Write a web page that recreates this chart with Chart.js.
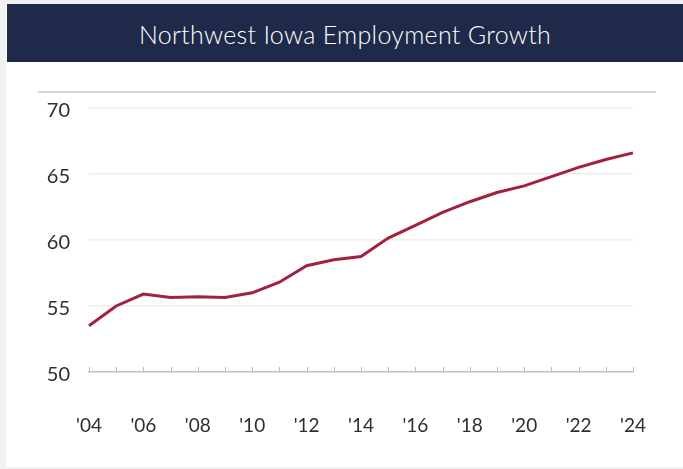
<!DOCTYPE html>
<html>
<head>
<meta charset="utf-8">
<script src="https://cdn.jsdelivr.net/npm/chart.js@4"></script>
<style>
  html, body { margin: 0; padding: 0; }
  body { width: 683px; height: 469px; background: #f1f1f1; position: relative; overflow: hidden; font-family: Lato, "Open Sans", sans-serif; }
  .card { position: absolute; left: 6px; top: 4px; width: 677px; height: 463px; background: #fff; }
  .header { position: absolute; left: 7px; top: 4px; width: 676px; height: 58px; background: #1f2a4b; color: #fff;
    font-size: 25px; font-weight: 300; line-height: 61px; text-align: center; letter-spacing: 0.3px; }
  .rule { position: absolute; left: 38px; top: 91px; width: 618px; height: 2px; background: #ddd3d3; }
  .wrap { position: absolute; left: 0; top: 62px; width: 683px; height: 405px; }
</style>
</head>
<body>
<div class="card"></div>
<div class="header">Northwest Iowa Employment Growth</div>
<div class="rule"></div>
<div class="wrap"><canvas id="chart"></canvas></div>
<script>
const years = ['2004','2005','2006','2007','2008','2009','2010','2011','2012','2013','2014',
               '2015','2016','2017','2018','2019','2020','2021','2022','2023','2024'];
const employment = [53.5, 55.0, 55.9, 55.65, 55.7, 55.65, 56.0, 56.8, 58.05, 58.5, 58.75,
                    60.15, 61.1, 62.1, 62.9, 63.6, 64.1, 64.8, 65.5, 66.1, 66.6];
const yTicks = [50, 55, 60, 65, 70];

// little upright year ticks sitting on the baseline
const yearTicks = {
  id: 'yearTicks',
  afterDatasetsDraw(chart) {
    const { ctx, scales: { x, y } } = chart;
    const base = y.getPixelForValue(50);
    ctx.save();
    ctx.strokeStyle = '#c9b9b9';
    ctx.lineWidth = 1;
    years.forEach((_, i) => {
      const px = Math.round(x.getPixelForValue(i)) + 0.5;
      ctx.beginPath();
      ctx.moveTo(px, base - 5);
      ctx.lineTo(px, base);
      ctx.stroke();
    });
    ctx.restore();
  }
};

new Chart(document.getElementById('chart'), {
  type: 'line',
  data: {
    labels: years,
    datasets: [{
      data: employment,
      borderColor: '#a3213f',
      borderWidth: 3,
      pointRadius: 0,
      tension: 0,
      fill: false
    }]
  },
  options: {
    responsive: true,
    maintainAspectRatio: false,
    animation: false,
    layout: { padding: { top: 46, right: 50, left: 0, bottom: 0 } },
    plugins: { legend: { display: false }, tooltip: { enabled: false } },
    scales: {
      x: {
        afterFit: scale => { scale.height = 95; },
        // invisible tick marks only push the year labels down
        grid: { display: true, drawOnChartArea: false, drawTicks: true, tickLength: 36, tickColor: 'rgba(0,0,0,0)' },
        border: { display: true, color: '#cdbcbc', width: 1.5 },
        ticks: {
          autoSkip: false,
          maxRotation: 0,
          padding: 6,
          color: '#2e2e2e',
          font: { family: 'Lato', size: 19 },
          callback: (v, i) => i % 2 === 0 ? "'" + years[i].slice(2) : ''
        }
      },
      y: {
        min: 50,
        max: 70,
        afterFit: scale => { scale.width = 89; },
        afterBuildTicks: scale => { scale.ticks = yTicks.map(v => ({ value: v })); },
        border: { display: false },
        grid: {
          drawTicks: false,
          color: ctx => ctx.tick && ctx.tick.value === 50 ? 'rgba(0,0,0,0)' : '#f0eded',
          lineWidth: 1.5
        },
        ticks: {
          padding: 19,
          labelOffset: 3,
          color: '#2e2e2e',
          font: { family: 'Lato', size: 20 }
        }
      }
    }
  },
  plugins: [yearTicks]
});
</script>
</body>
</html>
